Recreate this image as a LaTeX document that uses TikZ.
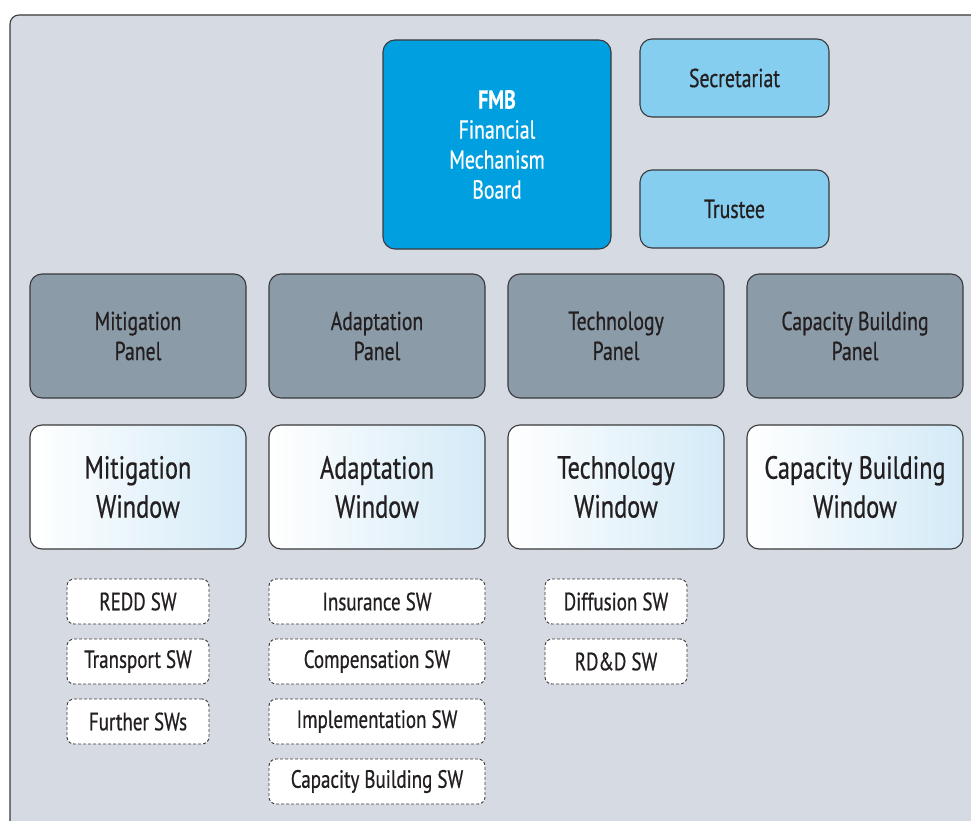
\documentclass[tikz,border=0pt]{standalone}
\usepackage{fontspec}
\setmainfont{PT Sans}[FakeStretch=0.76, FakeBold=0.6]
\definecolor{bggrey}{HTML}{D6DAE2}
\definecolor{boardblue}{HTML}{009FE0}
\definecolor{lightblue}{HTML}{86CEF0}
\definecolor{panelgrey}{HTML}{8B9BA7}
\definecolor{winblue}{HTML}{D3EAF7}
\definecolor{edgegrey}{HTML}{3A3A3C}
\definecolor{inkdark}{HTML}{231F20}
\tikzset{
  box/.style={draw=edgegrey, line width=1.1pt, rounded corners=12pt, inner sep=0pt,
    align=center, text=inkdark, font=\fontsize{26}{30}\selectfont},
  board/.style={box, fill=boardblue, text=white, minimum width=228pt, minimum height=209pt},
  office/.style={box, fill=lightblue, minimum width=189pt, minimum height=78pt},
  panel/.style={box, fill=panelgrey, minimum width=216pt, minimum height=124pt},
  window/.style={box, left color=white, right color=winblue, minimum width=216pt,
    minimum height=124pt, font=\fontsize{32}{39}\selectfont},
  subwin/.style={box, fill=white, dashed, dash pattern=on 3pt off 2pt, line width=0.9pt,
    rounded corners=7pt, minimum height=45pt, font=\fontsize{25}{28}\selectfont},
  narrow/.style={subwin, minimum width=142pt},
  wide/.style={subwin, minimum width=216pt},
}

\begin{document}
\begin{tikzpicture}[x=1pt, y=-1pt]
    \useasboundingbox (0,0) rectangle (971,821);
    \clip (0,0) rectangle (971,821);
    \draw[edgegrey, line width=1.1pt, fill=bggrey, rounded corners=9pt] (10,15) rectangle (1000,850);

    % board and its offices
    \node[board] (fmb) at (497,144.5) {\textbf{FMB}\\Financial\\Mechanism\\Board};
    \node[office] (secretariat) at (734.5,78) {Secretariat};
    \node[office] (trustee) at (734.5,209) {Trustee};

    % panels
    \node[panel] (mitpanel) at (138,336) {Mitigation\\Panel};
    \node[panel] (adapanel) at (377,336) {Adaptation\\Panel};
    \node[panel] (techpanel) at (616,336) {Technology\\Panel};
    \node[panel] (cbpanel) at (855,336) {Capacity Building\\Panel};

    % windows
    \node[window] (mitwin) at (138,487) {Mitigation\\Window};
    \node[window] (adawin) at (377,487) {Adaptation\\Window};
    \node[window] (techwin) at (616,487) {Technology\\Window};
    \node[window] (cbwin) at (855,487) {Capacity Building\\Window};

    % sub-windows
    \node[narrow] (redd) at (138,601.5) {REDD SW};
    \node[narrow] (transport) at (138,661.5) {Transport SW};
    \node[narrow] (further) at (138,721.5) {Further SWs};
    \node[wide] (insurance) at (377,601.5) {Insurance SW};
    \node[wide] (compensation) at (377,661.5) {Compensation SW};
    \node[wide] (implementation) at (377,721.5) {Implementation SW};
    \node[wide] (cbsw) at (377,781.5) {Capacity Building SW};
    \node[narrow] (diffusion) at (616,601.5) {Diffusion SW};
    \node[narrow] (rdd) at (616,661.5) {RD\&D SW};
\end{tikzpicture}
\end{document}
